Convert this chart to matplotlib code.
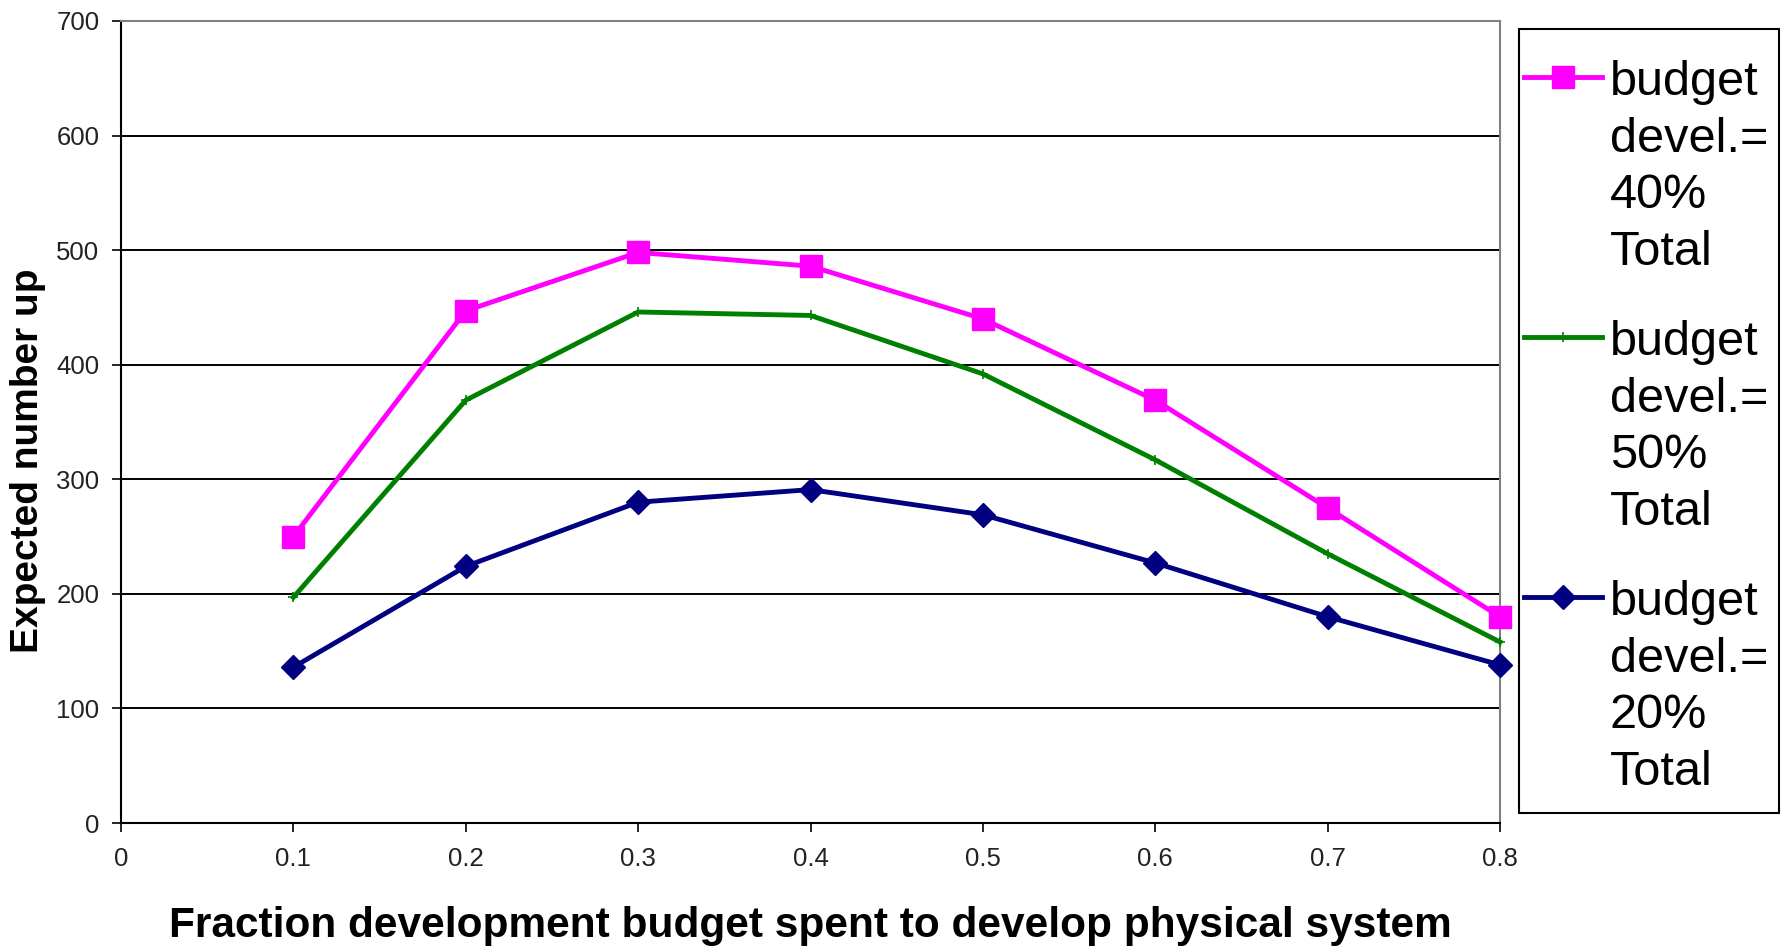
import matplotlib
matplotlib.use("Agg")
import matplotlib.pyplot as plt
from matplotlib.lines import Line2D
from matplotlib.patches import Rectangle

# ---- data -------------------------------------------------------------
fractions = [0.1, 0.2, 0.3, 0.4, 0.5, 0.6, 0.7, 0.8]
devel_40 = [250, 447, 498, 486, 440, 369, 275, 180]
devel_50 = [197, 369, 446, 443, 392, 317, 235, 158]
devel_20 = [136, 224, 280, 291, 269, 227, 180, 138]

series_labels = [
    "budget\ndevel.=\n40%\nTotal",
    "budget\ndevel.=\n50%\nTotal",
    "budget\ndevel.=\n20%\nTotal",
]
x_ticks = [0, 0.1, 0.2, 0.3, 0.4, 0.5, 0.6, 0.7, 0.8]
x_tick_labels = ["0", "0.1", "0.2", "0.3", "0.4", "0.5", "0.6", "0.7", "0.8"]
y_ticks = [0, 100, 200, 300, 400, 500, 600, 700]
y_tick_labels = ["0", "100", "200", "300", "400", "500", "600", "700"]

x_title = "Fraction development budget spent to develop physical system"
y_title = "Expected number up"

# ---- style ------------------------------------------------------------
plt.rcParams["font.family"] = ["Liberation Sans", "DejaVu Sans"]
PINK, GREEN, NAVY = "#FF00FF", "#008000", "#000080"

W, H = 1782, 947
fig = plt.figure(figsize=(W / 100, H / 100), dpi=100)
fig.patch.set_facecolor("white")


def fx(px):
    return px / W


def fy(py):
    return 1 - py / H


# plot area
left, right, top, bottom = 121, 1500, 21, 823
ax = fig.add_axes([fx(left), fy(bottom), fx(right - left), (bottom - top) / H])

LW = 3.5
styles = [
    dict(color=PINK, marker="s", ms=15.5, mec=PINK, mfc=PINK),
    dict(color=GREEN, marker="+", ms=7, mew=1.2, mec=GREEN),
    dict(color=NAVY, marker="D", ms=12.5, mec=NAVY, mfc=NAVY),
]
series = [devel_40, devel_50, devel_20]

for vals, st in zip(series, styles):
    ax.plot(fractions, vals, lw=LW, clip_on=False, zorder=3, **st)

ax.set_xlim(0, 0.8)
ax.set_ylim(0, 700)
ax.set_xticks(x_ticks)
ax.set_xticklabels(x_tick_labels)
ax.set_yticks(y_ticks)
ax.set_yticklabels(y_tick_labels)

ax.yaxis.grid(True, color="black", lw=1.4)
for gl, v in zip(ax.get_ygridlines(), y_ticks):
    if v in (y_ticks[0], y_ticks[-1]):
        gl.set_visible(False)
ax.set_axisbelow(True)

for side in ("left", "bottom"):
    ax.spines[side].set_color("black")
    ax.spines[side].set_linewidth(1.5)
for side in ("top", "right"):
    ax.spines[side].set_color("#808080")
    ax.spines[side].set_linewidth(1.5)

ax.tick_params(axis="both", direction="out", length=6.5, width=1.2,
               color="black", labelsize=18.5, labelcolor="#222222")
ax.tick_params(axis="y", pad=9)
ax.tick_params(axis="x", pad=11)

fig.text(fx(810), fy(926), x_title, ha="center", va="center",
         fontsize=30.5, fontweight="bold")
fig.text(fx(28), fy(461), y_title, ha="center", va="center",
         rotation=90, fontsize=28, fontweight="bold")

# ---- legend -----------------------------------------------------------
box = Rectangle((fx(1519), fy(813)), fx(1779 - 1519), (813 - 29) / H,
                transform=fig.transFigure, facecolor="white",
                edgecolor="black", lw=1.5, zorder=1)
fig.add_artist(box)

entry_y = [77, 337, 597]
for (label, st, yc) in zip(series_labels, styles, entry_y):
    handle = Line2D([fx(1524), fx(1563), fx(1602)], [fy(yc)] * 3,
                    transform=fig.transFigure, lw=LW, markevery=[1], **st)
    fig.add_artist(handle)
    fig.text(fx(1610), fy(yc - 17), label, ha="left", va="top",
             fontsize=35, linespacing=1.33)

fig.savefig("out.png", dpi=100, facecolor="white")
